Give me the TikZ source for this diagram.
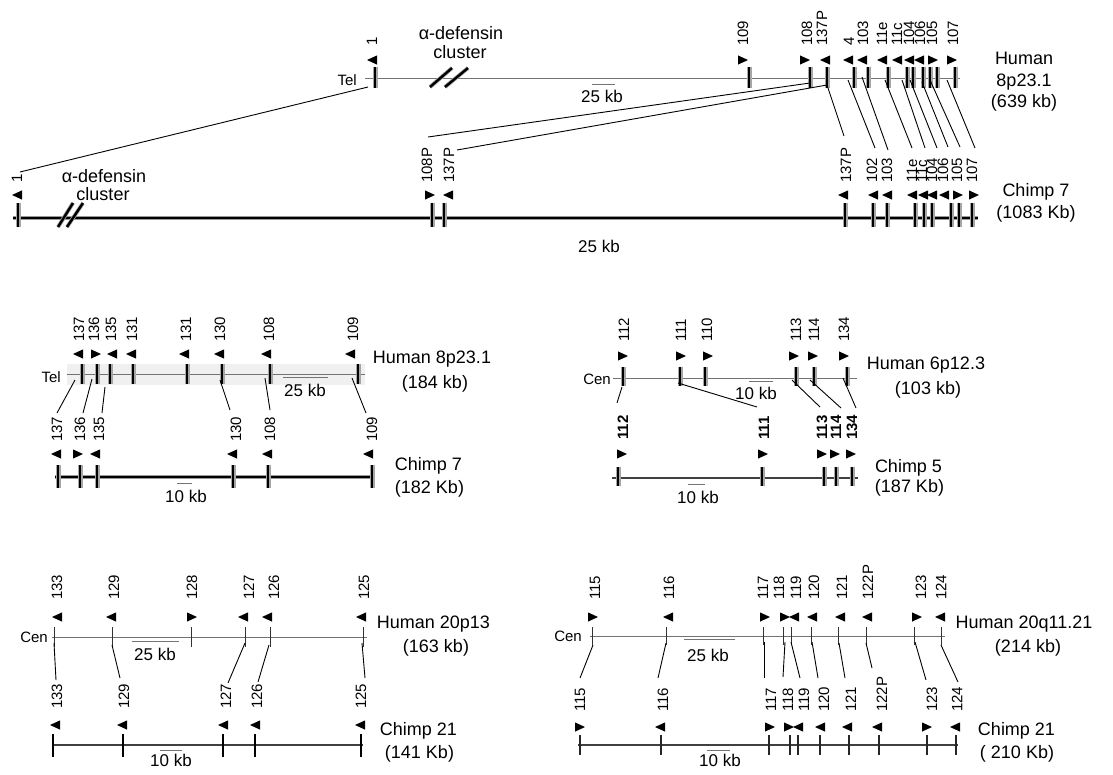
\documentclass[tikz,border=0pt]{standalone}
\usepackage{fontspec}
\setmainfont{Liberation Sans}
\newcommand\genelist[4]{%
  \foreach \lx/\ax/\t/\d in {#4} {%
    \fill ({\ax+5*(\d)},#1) -- ({\ax-5*(\d)},{#1-4.6}) -- ({\ax-5*(\d)},{#1+4.6}) -- cycle;
    \node[#3] (n-#1-\lx) at (\lx,#2) {\t};
  }%
}
\newcommand\ticklist[4]{\foreach \x in {#4} {\draw[#3] (\x,#1) -- (\x,#2);}}
\newcommand\connlist[1]{%
  \foreach \n/\a/\b/\c/\e in {#1} {%
    \coordinate (ch\n) at (\a,\b);
    \coordinate (cc\n) at (\c,\e);
    \draw[conn] (ch\n) -- (cc\n);
  }%
}
\begin{document}
\begin{tikzpicture}[x=1pt,y=-1pt,
  glab/.style={rotate=90,anchor=west,inner sep=0pt,font=\fontsize{15}{16}\selectfont},
  glabb/.style={glab,font=\fontsize{15}{16}\selectfont\bfseries},
  rlab/.style={anchor=base,inner sep=0pt,font=\fontsize{18}{20}\selectfont},
  slab/.style={inner sep=0pt,font=\fontsize{17}{18}\selectfont},
  endlab/.style={anchor=east,inner sep=0pt,font=\fontsize{15}{16}\selectfont},
  conn/.style={line width=0.9pt,black},
  hline/.style={line width=0.8pt,black!55},
  scalebar/.style={line width=0.8pt,black!55},
  cline/.style={line width=1.8pt,black,preaction={draw,black!40,line width=3.6pt}},
  cline2/.style={line width=1.5pt,black!75,preaction={draw,black!30,line width=2.8pt}},
  fattick/.style={line width=2.6pt,black,preaction={draw,black!35,line width=5pt}},
  midtick/.style={line width=2.2pt,black!85},
  thintick/.style={line width=0.9pt,black!80},
  slash/.style={line width=2.4pt,black,preaction={draw,black!35,line width=4pt}}
]
\useasboundingbox (0,0) rectangle (1113,774);

% ================= top panel =================
\draw[hline] (365,78) -- (960,78);
\node[endlab] (tel1) at (357,80) {Tel};
\draw[slash] (430,87) -- (452,68);
\draw[slash] (445,87) -- (468,68);
\node[rlab] (adef1) at (461,39.5) {α-defensin};
\node[rlab] (clu1) at (460,58.5) {cluster};
\ticklist{67}{88}{fattick}{375,749,810,827,854,868,888,907,913,923,930,937,955}
\genelist{60}{46}{glab}{372/372/1/-1, 743/743/109/1, 807/805/108/1, 822/825/137P/-1, 849/848/4/-1, 863/862/103/-1, 882/882/11e/-1, 897/897/11c/-1, 909/909/104/-1, 920/919/106/-1, 932/933/105/1, 953/952/107/1}
\draw[scalebar] (592,84) -- (615,84);
\node[slab] (s1) at (602,96) {25 kb};
\node[rlab] (h1a) at (1024,64.5) {Human};
\node[rlab] (h1b) at (1024,86) {8p23.1};
\node[rlab] (h1c) at (1024,107.5) {(639 kb)};

\draw[cline] (13,218) -- (978,218);
\draw[slash] (58,227) -- (73,203);
\draw[slash] (67,227) -- (83,203);
\node[rlab] (adef2) at (104,182) {α-defensin};
\node[rlab] (clu2) at (103,200.5) {cluster};
\ticklist{203}{227}{fattick}{18,432,444,845,873,887,915,924,932,951,959,972}
\genelist{195}{183}{glab}{17/17/1/-1, 427/430/108P/1, 449/448/137P/-1, 846/843/137P/-1, 872/873/102/-1, 887/887/103/-1, 912/912/11e/-1, 922/923/11c/-1, 932/932/104/-1, 943/944/106/-1, 957/958/105/1, 972/974/107/1}
\node[slab] (s2) at (599,246) {25 kb};
\node[rlab] (c1a) at (1036,196) {Chimp 7};
\node[rlab] (c1b) at (1036,218.5) {(1083 Kb)};

\connlist{a1/368/87/20/172, a2/810/83/428/137, a3/827/85/457/150, a4/827/85/844/136, a5/848/80/875/148, a6/862/77/888/150, a7/885/80/912/148, a8/902/80/925/148, a9/910/80/937/148, a10/922/82/948/147, a11/930/80/960/147, a12/947/80/975/148}

% ================= middle left =================
\fill[black!6] (67,364) rectangle (365,385);
\draw[hline] (67,374) -- (365,374);
\node[endlab] (tel2) at (61,377) {Tel};
\ticklist{364}{384}{fattick}{82,97,110,133,187,222,270,358}
\genelist{354}{342}{glab}{79/78/137/-1, 94/96/136/1, 111/112/135/-1, 132/131/131/-1, 186/184/131/-1, 220/219/130/-1, 269/266/108/-1, 353/350/109/-1}
\draw[scalebar] (283,377) -- (328,377);
\node[slab] (s3) at (305,390) {25 kb};
\node[rlab] (h2a) at (432,363) {Human 8p23.1};
\node[rlab] (h2b) at (435,388) {(184 kb)};

\draw[cline] (55,477) -- (375,477);
\ticklist{465}{488}{fattick}{58,80,97,233,268,372}
\genelist{454}{442}{glab}{57/56/137/-1, 80/78/136/1, 99/95/135/-1, 236/232/130/-1, 270/267/108/-1, 372/368/109/-1}
\draw[scalebar] (177,483) -- (192,483);
\node[slab] (s4) at (186,496) {10 kb};
\node[rlab] (c2a) at (428.5,470) {Chimp 7};
\node[rlab] (c2b) at (429.5,493) {(182 Kb)};

\connlist{b1/75/380/57/413, b2/92/379/83/413, b3/105/387/102/413, b4/220/380/230/410, b5/265/378/270/410, b6/352/378/366/413}

% ================= middle right =================
\draw[hline] (613,378) -- (857,378);
\node[endlab] (cen1) at (611,379) {Cen};
\ticklist{367}{386}{fattick}{623,680,705,796,814,847}
\genelist{356}{342}{glab}{624/623/112/1, 681/681/111/1, 707/708/110/1, 796/794/113/1, 814/813/114/1, 844/844/134/1}
\draw[scalebar] (749,381) -- (773,381);
\node[slab] (s5) at (756,393) {10 kb};
\node[rlab] (h3a) at (926,369) {Human 6p12.3};
\node[rlab] (h3b) at (928,394) {(103 kb)};

\draw[cline2] (612,478) -- (858,478);
\ticklist{467}{486}{fattick}{618,762,824,836,852}
\genelist{454}{440}{glabb}{623/622/112/1, 764/763/111/1, 822/822/113/1, 836/835/114/1, 852/851/134/1}
\draw[scalebar] (688,484) -- (705,484);
\node[slab] (s6) at (698,497) {10 kb};
\node[rlab] (c3a) at (908.5,472) {Chimp 5};
\node[rlab] (c3b) at (909.5,492) {(187 Kb)};

\connlist{d1/622/387/617/403, d2/678/383/757/407, d3/792/380/820/407, d4/810/380/841/408, d5/843/378/856/408}

% ================= bottom left =================
\draw[hline] (52,637) -- (367,637);
\node[endlab] (cen2) at (48,637) {Cen};
\ticklist{627}{647}{thintick}{54,112,191,245,270,363}
\genelist{617}{600}{glab}{57/57/133/-1, 114/111/129/-1, 192/192/128/1, 249/243/127/-1, 274/267/126/-1, 364/361/125/-1}
\draw[scalebar] (132,641) -- (179,641);
\node[slab] (s7) at (155,654) {25 kb};
\node[rlab] (h4a) at (433.5,628) {Human 20p13};
\node[rlab] (h4b) at (436,652) {(163 kb)};

\draw[cline2] (52,745) -- (363,745);
\ticklist{734}{757}{line width=2.8pt,black}{53,123,223,255,361}
\genelist{725}{709}{glab}{57/55/133/-1, 124/122/129/-1, 226/223/127/-1, 257/255/126/-1, 361/360/125/-1}
\draw[scalebar] (160,750) -- (182,750);
\node[slab] (s8) at (171,760) {10 kb};
\node[rlab] (c4a) at (418.5,735) {Chimp 21};
\node[rlab] (c4b) at (419.5,758) {(141 Kb)};

\connlist{e1/54/643/56/680, e2/112/645/120/678, e3/245/643/228/683, e4/269/645/258/682, e5/362/643/365/678}

% ================= bottom right =================
\draw[hline] (590,636) -- (945,636);
\node[endlab] (cen3) at (582,636) {Cen};
\ticklist{627}{645}{thintick}{592,666,763,783,791,811,838,866,914,941}
\genelist{617}{600}{glab}{595/593/115/1, 669/668/116/-1, 763/765/117/1, 779/785/118/1, 796/794/119/-1, 814/812/120/-1, 842/840/121/-1, 868/867/122P/-1, 921/917/123/1, 941/940/124/-1}
\draw[scalebar] (684,639) -- (735,639);
\node[slab] (s9) at (708,655) {25 kb};
\node[rlab] (h5a) at (1024,628) {Human 20q11.21};
\node[rlab] (h5b) at (1028,652) {(214 kb)};

\draw[line width=1.2pt,black!75] (578,745) -- (958,745);
\ticklist{735}{755}{midtick}{580,661,769,790,798,820,849,879,927,956}
\genelist{727}{712}{glab}{580/580/115/1, 663/660/116/-1, 771/770/117/1, 788/789/118/1, 804/798/119/-1, 824/820/120/-1, 851/847/121/-1, 882/877/122P/-1, 932/927/123/1, 957/955/124/-1}
\draw[scalebar] (707,750) -- (730,750);
\node[slab] (s10) at (720,760) {10 kb};
\node[rlab] (c5a) at (1016.5,735) {Chimp 21};
\node[rlab] (c5b) at (1017,758) {( 210 Kb)};

\connlist{f1/593/645/580/678, f2/666/643/658/678, f3/764/642/764/678, f4/785/642/783/677, f5/791/642/800/678, f6/812/642/818/678, f7/839/643/845/678, f8/866/643/872/668, f9/915/642/926/680, f10/941/645/958/682}
\end{tikzpicture}
\end{document}
